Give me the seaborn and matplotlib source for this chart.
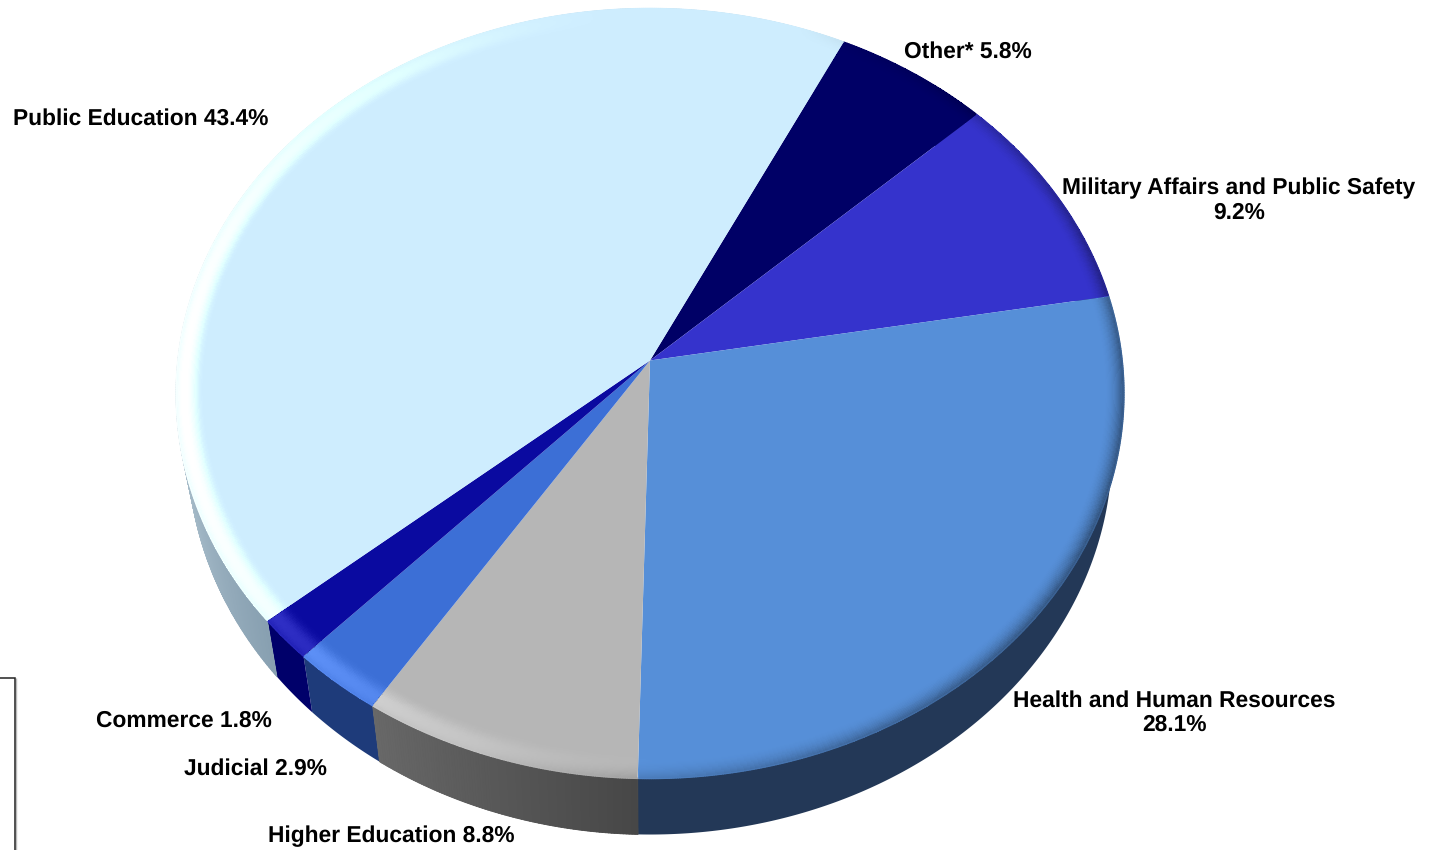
import numpy as np
import matplotlib
matplotlib.use("Agg")
import matplotlib.pyplot as plt
from matplotlib.transforms import Transform
from matplotlib.collections import PolyCollection, LineCollection
from matplotlib.patches import Polygon
import matplotlib.colors as mc
import seaborn as sns

categories = ["Other*", "Military Affairs and Public Safety", "Health and Human Resources",
              "Higher Education", "Judicial", "Commerce", "Public Education"]
shares = [5.8, 9.2, 28.1, 8.8, 2.9, 1.8, 43.4]
top_hex = ["#000066", "#3533CC", "#568FD8", "#B6B6B6", "#3C6FD6", "#0A0AA0", "#CEEDFE"]
wall_start_hex = ["#000044", "#1A1A70", "#233857", "#686868", "#1E3B7A", "#00006A", "#B4C8D4"]
wall_end_hex = ["#000044", "#1A1A70", "#233857", "#474747", "#1E3B7A", "#00006A", "#88A0B1"]
wall_stretch = [1, 1, 1, 1, 1, 1, 4.4]
label_lines = ["Other* 5.8%", "Military Affairs and Public Safety\n9.2%",
               "Health and Human Resources\n28.1%", "Higher Education 8.8%",
               "Judicial 2.9%", "Commerce 1.8%", "Public Education 43.4%"]
label_xy = [(968, 52), (1239, 200.5), (1174, 712.5), (391, 836), (255, 769), (184, 721), (140.5, 119)]

W, H = 1431, 850
CX, CY, A, B, K = 650.0, 360.5, 472.2, 382.2, 0.0857
DEPTH, SHRINK = 56.0, 0.975


def project(u, v):
    w = 1 + K * v
    return CX + A * u / w, CY - B * v / w


class Tilt(Transform):
    input_dims = output_dims = 2

    def transform_non_affine(self, xy):
        xy = np.asarray(xy, dtype=float)
        x, y = project(xy[:, 0], xy[:, 1])
        return np.column_stack([x, y])


def shade(base, theta_deg, r):
    phi = np.radians(90 - theta_deg)
    ph = np.clip((r - 0.94) / 0.06, 0, 1)
    s = np.clip(ph / 0.72, 0, 1)
    bump = s * s * s * (s * (6 * s - 15) + 10) * (1 - 0.35 * np.clip((ph - 0.72) / 0.28, 0, 1) ** 2)
    light = 50 / 255 * np.maximum(0, np.cos(phi - np.radians(265))) ** 1.5 * bump
    pd = np.clip((r - 0.958) / 0.042, 0, 1) ** 2
    dark = 0.42 * np.maximum(0, np.cos(phi - np.radians(110))) * pd
    out = [np.clip((base[i] + light) * (1 - dark), 0, 1) for i in range(3)]
    return np.stack(out + [np.ones_like(out[0])], axis=-1)


sns.set_theme(style="white")
plt.rcParams["font.family"] = ["Liberation Sans", "DejaVu Sans"]
plt.rcParams["text.hinting"] = "no_hinting"
top_colors = sns.color_palette(top_hex)
fig = plt.figure(figsize=(W / 100, H / 100), dpi=100)
ax = fig.add_axes([0, 0, 1, 1])

wedges, _ = ax.pie(shares, colors=top_colors, startangle=63.8, counterclock=False,
                   radius=1.0, center=(0, 0), wedgeprops=dict(linewidth=0))
tilt = Tilt()

for i, wd in enumerate(wedges):
    t = np.radians(np.linspace(wd.theta1, wd.theta2, max(3, int((wd.theta2 - wd.theta1) * 3))))
    x, y = project(np.cos(t), np.sin(t))
    xb, yb = CX + (x - CX) * SHRINK, y + DEPTH
    c0, c1 = np.array(mc.to_rgb(wall_start_hex[i])), np.array(mc.to_rgb(wall_end_hex[i]))
    fr = np.clip(1 - (1 - np.linspace(0, 1, len(t) - 1)) * wall_stretch[i], 0, 1)
    mean = c0 + (c1 - c0) * fr.mean()
    outline = np.column_stack([np.r_[x, xb[::-1]], np.r_[y, yb[::-1]]])
    ax.add_patch(Polygon(outline, closed=True, facecolor=mean, edgecolor="none", zorder=1))
    quads, cols = [], []
    if wall_start_hex[i] != wall_end_hex[i]:
        for j in range(len(t) - 1):
            quads.append([(x[j], y[j]), (x[j + 1], y[j + 1]), (xb[j + 1], yb[j + 1]), (xb[j], yb[j])])
            cols.append(c0 + (c1 - c0) * fr[j])
        ax.add_collection(PolyCollection(quads, facecolors=cols, edgecolors=cols, linewidths=0.6, zorder=1.1))

for i, wd in enumerate(wedges):
    wd.set_transform(tilt + ax.transData)
    wd.set_clip_on(False)
    wd.set_zorder(2)
    base = mc.to_rgb(top_hex[i])
    th = np.linspace(wd.theta1 + 0.1, wd.theta2 - 0.1, max(3, int((wd.theta2 - wd.theta1) * 4)))
    rr = np.linspace(0.94, 1.0, 26)
    TT, RR = np.meshgrid(th, rr)
    X, Y = project(RR * np.cos(np.radians(TT)), RR * np.sin(np.radians(TT)))
    tc = 0.5 * (th[:-1] + th[1:])
    rc = 0.5 * (rr[:-1] + rr[1:])
    TC, RC = np.meshgrid(tc, rc)
    ax.pcolormesh(X, Y, shade(base, TC, RC), shading="flat", zorder=3, linewidth=0)
    t = np.linspace(wd.theta1, wd.theta2, max(3, int((wd.theta2 - wd.theta1) * 4)))
    xr, yr = project(np.cos(np.radians(t)), np.sin(np.radians(t)))
    segs = [[(xr[j], yr[j]), (xr[j + 1], yr[j + 1])] for j in range(len(t) - 1)]
    cr = shade(base, 0.5 * (t[:-1] + t[1:]), np.full(len(t) - 1, 0.995))
    ax.add_collection(LineCollection(segs, colors=cr, linewidths=1.0, zorder=4, capstyle="round"))

for txt, (tx, ty) in zip(label_lines, label_xy):
    ax.text(tx, ty, txt, ha="center", va="center", fontsize=16.35, fontweight="bold",
            color="black", linespacing=1.16, zorder=6)

ax.plot([16, 16], [678, 850], color="#BBBBBB", lw=1.0, zorder=5, solid_capstyle="butt")
ax.plot([0, 14.5, 14.5], [677.5, 677.5, 850], color="#222222", lw=1.1, zorder=6, solid_joinstyle="miter")

ax.set_aspect("auto")
ax.set_xlim(0, W)
ax.set_ylim(H, 0)
ax.axis("off")
fig.savefig("out.png", dpi=100, facecolor="white")
